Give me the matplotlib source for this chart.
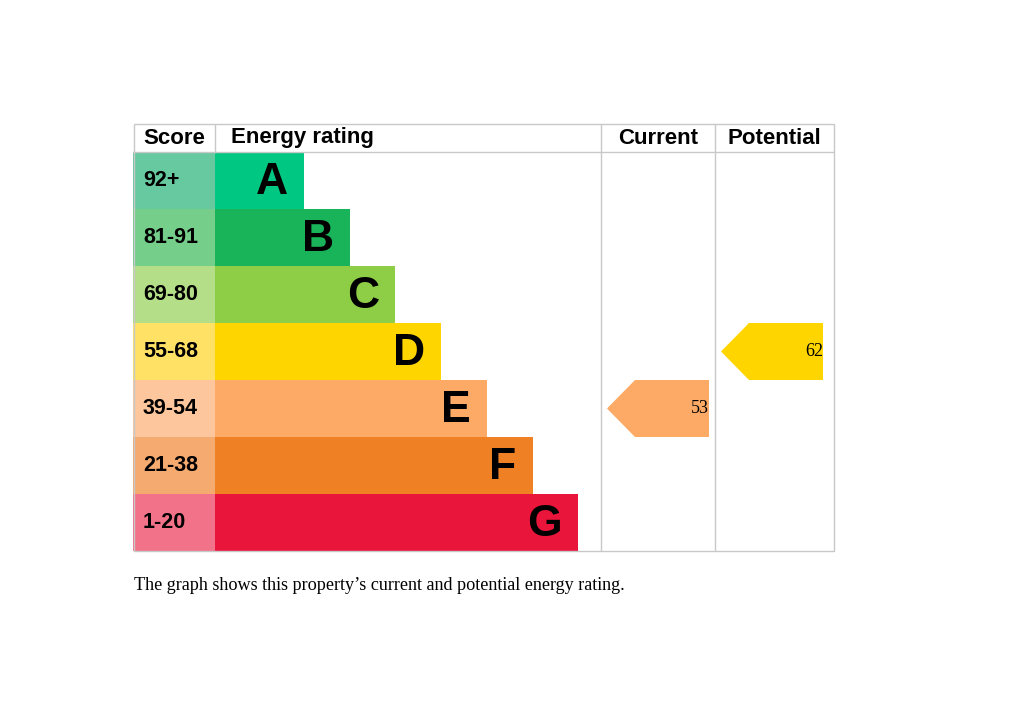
import matplotlib.pyplot as plt
from matplotlib.patches import Polygon, Rectangle

# band data
bands = ['A', 'B', 'C', 'D', 'E', 'F', 'G']
score_labels = ['92+', '81-91', '69-80', '55-68', '39-54', '21-38', '1-20']
band_lows = [92, 81, 69, 55, 39, 21, 1]
bar_colors = ['#00c781', '#19b459', '#8dce46', '#ffd500', '#fcaa65', '#ef8023', '#e9153b']
score_colors = ['#66c9a0', '#75cf8a', '#b4de88', '#ffe166', '#fdc69c', '#f5aa70', '#f27289']
current = 53
potential = 62

# layout (pixel units across, row units down)
table_w = 701
score_w = 82
bar_first = 89
bar_step = 45.7
col_cur = 468
col_pot = 582
header_h = 28 / 57
top = -0.5 - header_h
bottom = len(bands) - 0.5

fig = plt.figure(figsize=(10.24, 7.24), dpi=100)
ax = fig.add_axes([133 / 1024, (724 - 551) / 724, 701 / 1024, (551 - 124) / 724])
ax.set_xlim(0, table_w)
ax.set_ylim(bottom, top)
ax.axis('off')

rows = list(range(len(bands)))
widths = [bar_first + bar_step * i for i in rows]
ax.barh(rows, [score_w] * len(rows), left=0, height=1.0, color=score_colors)
ax.barh(rows, widths, left=score_w, height=1.0, color=bar_colors)

for i in rows:
    ax.text(10, i, score_labels[i], ha='left', va='center', fontsize=15.5,
            fontweight='bold', family='Liberation Sans')
    ax.text(score_w + widths[i] - 16, i + 0.03, bands[i], ha='right', va='center',
            fontsize=32, fontweight='bold', family='Liberation Sans')

# header
hdr_y = -0.5 - header_h / 2
hdr = dict(va='center', fontsize=16, fontweight='bold', family='Liberation Sans')
ax.text(score_w / 2, hdr_y, 'Score', ha='center', **hdr)
ax.text(score_w + 16, hdr_y, 'Energy rating', ha='left', **hdr)
ax.text((col_cur + col_pot) / 2, hdr_y, 'Current', ha='center', **hdr)
ax.text((col_pot + table_w) / 2, hdr_y, 'Potential', ha='center', **hdr)

# grid lines
lc = '#c8c8c8'
ax.add_patch(Rectangle((0.5, top), table_w - 1, bottom - top, fill=False, ec=lc, lw=1,
                       zorder=5, clip_on=False))
ax.plot([0, table_w], [-0.5, -0.5], color=lc, lw=1, zorder=5)
ax.plot([score_w, score_w], [top, -0.5], color=lc, lw=1, zorder=5)
for xc in (col_cur, col_pot):
    ax.plot([xc, xc], [top, bottom], color=lc, lw=1, zorder=5)


def band_index(v):
    for i, lo in enumerate(band_lows):
        if v >= lo:
            return i
    return len(band_lows) - 1


def arrow(x0, x1, value):
    i = band_index(value)
    tip = 28
    pts = [(x0, i), (x0 + tip, i - 0.5), (x1, i - 0.5), (x1, i + 0.5), (x0 + tip, i + 0.5)]
    ax.add_patch(Polygon(pts, closed=True, color=bar_colors[i], lw=0, zorder=3))
    ax.text(x1, i, str(value), ha='right', va='center', fontsize=13,
            family='Liberation Serif', zorder=4)


arrow(col_cur + 6, col_pot - 6, current)
arrow(col_pot + 6, table_w - 11, potential)

fig.text(134 / 1024, 1 - 585 / 724, 'The graph shows this property\u2019s current and potential energy rating.',
         ha='left', va='center', fontsize=13.1, family='Liberation Serif')

fig.savefig('out.png', dpi=100)
